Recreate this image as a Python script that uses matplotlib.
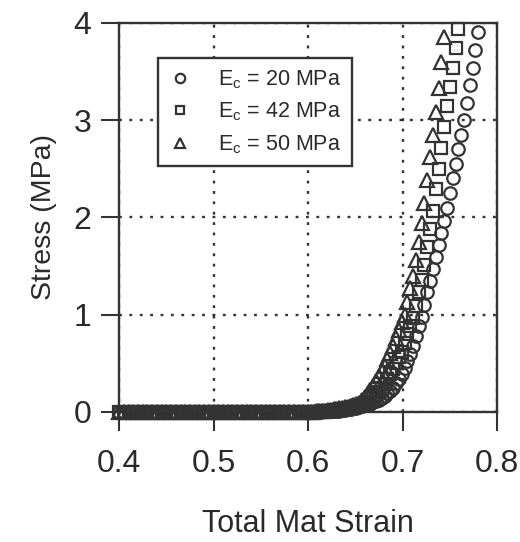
import matplotlib
matplotlib.use('Agg')
import matplotlib.pyplot as plt

# compression test: flat part of the curve (all three mats)
flat_strain = [0.400, 0.405, 0.410, 0.415, 0.420, 0.425, 0.430, 0.435, 0.440, 0.445,
               0.450, 0.455, 0.460, 0.465, 0.470, 0.475, 0.480, 0.485, 0.490, 0.495,
               0.500, 0.505, 0.510, 0.515, 0.520, 0.525, 0.530, 0.535, 0.540, 0.545,
               0.550, 0.555, 0.560, 0.565, 0.570, 0.575, 0.580, 0.585, 0.590, 0.595,
               0.600]
flat_stress = [0.0, 0.0, 0.0, 0.0, 0.0, 0.0, 0.0, 0.0, 0.0, 0.0,
               0.0, 0.0, 0.0, 0.0, 0.0, 0.0, 0.0, 0.0, 0.0, 0.0,
               0.0, 0.0, 0.0, 0.0, 0.0, 0.0, 0.0, 0.0, 0.0, 0.0,
               0.0, 0.0, 0.0, 0.0, 0.0, 0.0, 0.0, 0.0, 0.0, 0.0,
               0.0]

# densification part
rise_strain = [0.603, 0.606, 0.609, 0.612, 0.615, 0.618, 0.621, 0.624, 0.627, 0.630,
               0.633, 0.636, 0.639, 0.642, 0.645, 0.648, 0.651, 0.654, 0.657, 0.660,
               0.663, 0.666, 0.669, 0.672, 0.675, 0.678, 0.681, 0.684, 0.687, 0.690,
               0.693, 0.696, 0.699, 0.702, 0.705, 0.708, 0.711, 0.714, 0.717, 0.720,
               0.723, 0.726, 0.729, 0.732, 0.735, 0.738, 0.741, 0.744, 0.747, 0.750,
               0.753, 0.756, 0.759, 0.762, 0.765, 0.768, 0.771, 0.774, 0.777, 0.780]

stress_20 = [0.001, 0.002, 0.003, 0.004, 0.005, 0.006, 0.007, 0.008, 0.009, 0.010,
             0.0145, 0.019, 0.0235, 0.028, 0.0325, 0.037, 0.043, 0.051, 0.059, 0.067,
             0.075, 0.085, 0.099, 0.113, 0.127, 0.141, 0.16, 0.19, 0.22, 0.25,
             0.295, 0.34, 0.385, 0.45, 0.525, 0.60, 0.68, 0.78, 0.88, 0.98,
             1.10, 1.23, 1.35, 1.47, 1.59, 1.72, 1.84, 1.96, 2.10, 2.25,
             2.40, 2.55, 2.70, 2.85, 3.00, 3.18, 3.36, 3.54, 3.72, 3.90]

stress_42 = [0.001, 0.002, 0.003, 0.004, 0.005, 0.006, 0.007, 0.008, 0.012, 0.016,
             0.020, 0.025, 0.030, 0.035, 0.040, 0.048, 0.056, 0.064, 0.072, 0.080,
             0.104, 0.128, 0.152, 0.176, 0.200, 0.246, 0.292, 0.338, 0.385, 0.44,
             0.50, 0.56, 0.62, 0.71, 0.80, 0.88, 0.97, 1.09, 1.23, 1.36,
             1.51, 1.70, 1.88, 2.07, 2.29, 2.50, 2.71, 2.93, 3.14, 3.34,
             3.54, 3.74, 3.94]

stress_50 = [0.002, 0.004, 0.006, 0.008, 0.010, 0.014, 0.018, 0.022, 0.026, 0.030,
             0.036, 0.042, 0.048, 0.054, 0.060, 0.072, 0.084, 0.096, 0.123, 0.158,
             0.19, 0.227, 0.267, 0.317, 0.367, 0.417, 0.473, 0.54, 0.61, 0.68,
             0.76, 0.84, 0.92, 1.00, 1.13, 1.27, 1.40, 1.56, 1.75, 1.94,
             2.15, 2.38, 2.62, 2.85, 3.08, 3.33, 3.60, 3.85]

series = [stress_20, stress_42, stress_50]
labels = [r'$\mathregular{E_c}$ = 20 MPa',
          r'$\mathregular{E_c}$ = 42 MPa',
          r'$\mathregular{E_c}$ = 50 MPa']
markers = ['o', 's', '^']
sizes = [9.0, 8.5, 9.5]

x_ticks = [0.4, 0.5, 0.6, 0.7, 0.8]
y_ticks = [0, 1, 2, 3, 4]

ink = '#333333'
txt = '#2a2a2a'

plt.rcParams['font.family'] = ['Liberation Sans', 'DejaVu Sans']
plt.rcParams['mathtext.fontset'] = 'custom'
plt.rcParams['mathtext.rm'] = 'Liberation Sans'
plt.rcParams['mathtext.it'] = 'Liberation Sans'


def draw():
    fig = plt.figure(figsize=(5.2, 5.42), dpi=100)
    ax = fig.add_axes([0.229, 0.240, 0.727, 0.718])

    for stress, lab, m, ms in zip(series, labels, markers, sizes):
        x = flat_strain + rise_strain[:len(stress)]
        y = flat_stress + stress
        ax.plot(x, y, linestyle='none', marker=m, markersize=ms,
                markerfacecolor='none', markeredgecolor=ink,
                markeredgewidth=1.6, clip_on=False, label=lab, zorder=3)

    ax.set_xlim(0.4, 0.8)
    ax.set_ylim(0, 4)
    ax.set_xticks(x_ticks)
    ax.set_yticks(y_ticks)
    ax.set_xticklabels(['%.1f' % v for v in x_ticks])
    ax.set_yticklabels([str(v) for v in y_ticks])

    ax.grid(True, color=ink, linestyle=(0, (1.2, 3.2)), linewidth=1.7)
    ax.set_axisbelow(True)

    for sp in ax.spines.values():
        sp.set_linewidth(1.7)
        sp.set_color(ink)

    ax.tick_params(axis='x', direction='out', length=14, width=1.5, color=ink,
                   labelsize=23, labelcolor=txt, pad=13)
    ax.tick_params(axis='y', direction='out', length=13, width=1.5, color=ink,
                   labelsize=23, labelcolor=txt, pad=7)

    ax.set_xlabel('Total Mat Strain', fontsize=22, color=txt, labelpad=21)
    ax.set_ylabel('Stress (MPa)', fontsize=20.5, color=txt, labelpad=12)

    leg = ax.legend(loc='upper left', bbox_to_anchor=(0.103, 0.910),
                    borderaxespad=0, fancybox=False, framealpha=1,
                    edgecolor=ink, fontsize=15.5, handlelength=1.0,
                    handletextpad=1.3, labelspacing=0.45, borderpad=0.5,
                    markerscale=0.75)
    leg.get_frame().set_linewidth(1.7)
    for t in leg.get_texts():
        t.set_color(txt)

    fig.savefig('out.png', dpi=100)


if __name__ == '__main__':
    draw()
